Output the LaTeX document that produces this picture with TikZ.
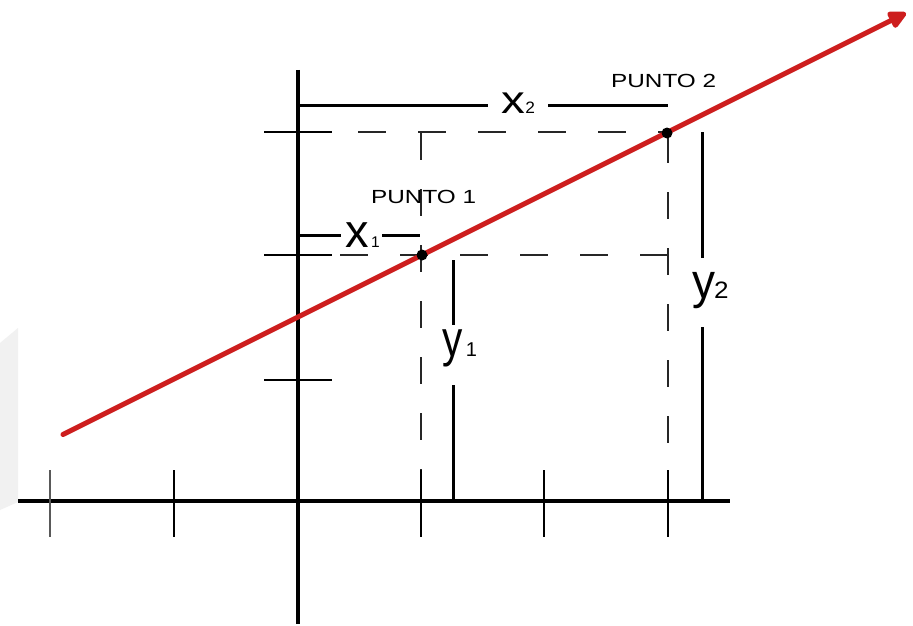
\documentclass[tikz,border=0pt]{standalone}
\usepackage{fontspec}
\setmainfont{Liberation Sans}
\usetikzlibrary{arrows.meta}
\definecolor{linered}{RGB}{205,30,30}
\newcommand{\myfs}[2]{{\fontsize{#1}{#1}\selectfont #2}}
\begin{document}
\begin{tikzpicture}[x=1pt,y=-1pt,
  axisline/.style={line width=4pt},
  tickline/.style={line width=1.4pt},
  dimline/.style={line width=3pt},
  hguide/.style={line width=1.4pt, black!85, dash pattern=on 28pt off 32pt},
  vguide/.style={line width=1.4pt, black!85, dash pattern=on 27pt off 29pt},
  lbl/.style={inner sep=0pt, anchor=base west}]
\useasboundingbox (0,0) rectangle (913,626);
\fill[white] (0,0) rectangle (913,626);
\fill[gray!11] (0,343) -- (18,328) -- (18,502) -- (0,510) -- cycle;

% key points
\coordinate (O) at (298,501);
\coordinate (P1) at (422,255);
\coordinate (P2) at (667,133);
\coordinate (S) at (63,434.5);
\coordinate (T) at (906,13);

% axes
\draw[axisline] (18,501) -- (730,501);
\draw[axisline] (298,70) -- (298,624);

% ticks on x axis
\draw[tickline, black!65] (50,470) -- (50,537);
\foreach \tx in {174,421,544,668}
  \draw[tickline] (\tx,470) -- (\tx,537);
% ticks on y axis
\foreach \ty in {132,255,380}
  \draw[tickline] (264,\ty) -- (332,\ty);

% dashed guides
\draw[hguide] (358,132) -- (667,132);
\draw[hguide] (340,255) -- (668,255);
\draw[vguide] (421,133) -- (421,470);
\draw[vguide] (668,136) -- (668,470);

% dimension lines
\draw[dimline] (298,105) -- (488,105);
\draw[dimline] (548,105) -- (668,105);
\draw[dimline] (298,235) -- (341,235);
\draw[dimline] (382,235) -- (420,235);
\draw[dimline] (453,260) -- (453,325);
\draw[dimline] (453,385) -- (453,501);
\draw[dimline] (702,132) -- (702,258);
\draw[dimline] (702,327) -- (702,501);

% red line
\draw[linered, line width=5pt, line cap=round, -{Triangle[length=21pt,width=19pt,round]}] (S) -- (T);

% points
\fill (P1) circle (5.5);
\fill (P2) circle (5.5);

% labels
\node[lbl] (p1lab) at (371,203) {\scalebox{1.28}[1]{\myfs{19}{PUNTO 1}}};
\node[lbl] (p2lab) at (611,88) {\scalebox{1.28}[1]{\myfs{19}{PUNTO 2}}};
\node[lbl] (x2lab) at (501,113) {\scalebox{1.22}[1]{\myfs{39}{x}}\kern0.5pt\scalebox{1.05}[1]{\myfs{16.5}{2}}};
\node[lbl] (x1lab) at (345,247) {\myfs{47}{x}\kern2.5pt\myfs{15.5}{1}};
\node[lbl] (y1lab) at (442.5,356) {\scalebox{0.8}[1]{\myfs{50.7}{y}}\kern3pt\myfs{20}{1}};
\node[lbl] (y2lab) at (692.5,298) {\scalebox{0.93}[1]{\myfs{49.4}{y}}\kern-1.5pt\scalebox{1.1}[1]{\myfs{23.7}{2}}};
\end{tikzpicture}
\end{document}
